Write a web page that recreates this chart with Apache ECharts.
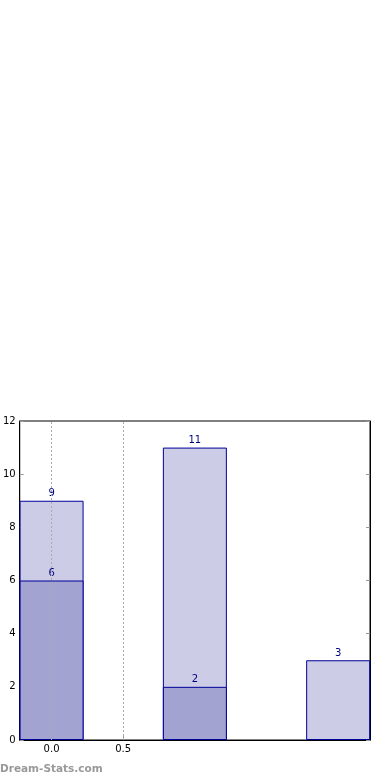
<!DOCTYPE html>
<html>
<head>
<meta charset="utf-8">
<script src="https://cdn.jsdelivr.net/npm/echarts@6/dist/echarts.min.js"></script>
<style>html,body{margin:0;padding:0;background:#fff}#c{width:390px;height:780px}</style>
</head>
<body>
<div id="c"></div>
<script>
const positions = [0, 1, 2];
const totalValues = [9, 11, 3];
const partValues = [6, 2, null];
const xTickValues = [0, 0.5];
const yTicks = [0, 2, 4, 6, 8, 10, 12];

const chart = echarts.init(document.getElementById('c'));
const font = 'DejaVu Sans';
const lbl = {show: true, position: 'top', color: '#000080', fontSize: 10, fontFamily: font, distance: 2};
chart.setOption({
  animation: false,
  grid: {left: 19, right: 20, top: 421, bottom: 40, show: true, borderColor: '#000', borderWidth: 1, backgroundColor: 'transparent'},
  xAxis: {
    type: 'value', min: -0.2222, max: 2.2222,
    axisLine: {show: true, onZero: false, lineStyle: {color: '#000'}},
    axisTick: {show: true, inside: true, length: 4, lineStyle: {color: '#999'}, customValues: xTickValues},
    axisLabel: {color: '#000', fontSize: 10, fontFamily: font, customValues: xTickValues, formatter: v => v.toFixed(1), margin: 4},
    splitLine: {show: false}
  },
  yAxis: [{
    type: 'value', min: 0, max: 12, interval: 2,
    axisLine: {show: true, onZero: false, lineStyle: {color: '#000'}},
    axisTick: {show: true, inside: true, length: 4, lineStyle: {color: '#999'}},
    axisLabel: {color: '#000', fontSize: 10, fontFamily: font, margin: 4,
      customValues: yTicks},
    splitLine: {show: false}
  }, {
    type: 'value', min: 0, max: 12, interval: 2, position: 'right',
    axisLine: {show: true, onZero: false, lineStyle: {color: '#000'}},
    axisTick: {show: true, inside: true, length: 4, lineStyle: {color: '#999'}},
    axisLabel: {show: false},
    splitLine: {show: false}
  }],
  series: [{
    type: 'bar', name: 'total', barWidth: 64, barGap: '-100%',
    data: positions.map((p, i) => [p, totalValues[i]]),
    itemStyle: {color: '#ccccE6', borderColor: '#000099', borderWidth: 1},
    label: lbl,
    z: 2
  }, {
    type: 'bar', name: 'part', barWidth: 64, barGap: '-100%',
    data: positions.map((p, i) => [p, partValues[i]]),
    itemStyle: {color: '#a3a3d1', borderColor: '#000099', borderWidth: 1},
    label: lbl,
    markLine: {
      silent: true, symbol: 'none', label: {show: false},
      lineStyle: {color: '#aaa', type: [2, 2], width: 1},
      data: xTickValues.map(v => ({xAxis: v}))
    },
    z: 3
  }],
  graphic: [{
    type: 'text', left: 0, top: 764,
    style: {text: 'Dream-Stats.com', fill: '#999', fontSize: 10.5, fontWeight: 'bold', fontFamily: font}
  }]
});
</script>
</body>
</html>
